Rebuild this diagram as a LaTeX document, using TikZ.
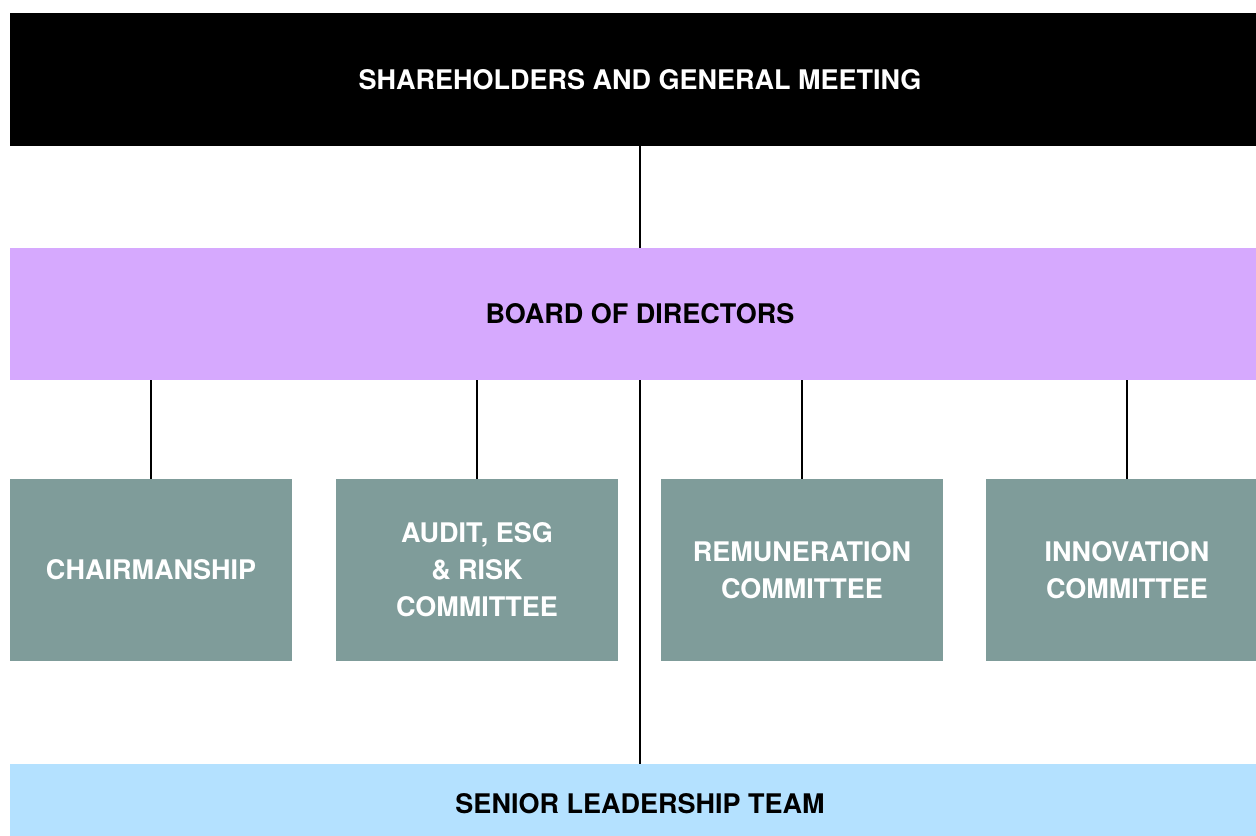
\documentclass[tikz,border=0pt]{standalone}
\usepackage{fontspec}
\setmainfont{TeX Gyre Heros}
\definecolor{boardpurple}{HTML}{D6A9FE}
\definecolor{committeegreen}{HTML}{7F9C9A}
\definecolor{seniorblue}{HTML}{B4E1FF}
\tikzset{
    govbox/.style={rectangle, inner sep=0pt, align=center, font=\bfseries\fontsize{13.5}{18.5}\selectfont},
    committee/.style={govbox, fill=committeegreen, text=white, minimum width=141pt, minimum height=91pt},
    link/.style={line width=0.7pt}
}
\begin{document}
\begin{tikzpicture}[x=0.5pt, y=-0.5pt]
    \clip (0,0) rectangle (1256,835);
    \fill[white] (0,0) rectangle (1256,835);

    \node[govbox, fill=black, text=white, minimum width=630pt, minimum height=66.5pt] (meeting) at (640,79.5) {SHAREHOLDERS AND GENERAL MEETING};
    \node[govbox, fill=boardpurple, minimum width=630pt, minimum height=66pt] (board) at (640,314) {BOARD OF DIRECTORS};

    \node[committee] (chair) at (151,570) {CHAIRMANSHIP};
    \node[committee] (audit) at (477,570) {AUDIT, ESG\\ \& RISK\\ COMMITTEE};
    \node[committee] (remun) at (802,570) {REMUNERATION\\ COMMITTEE};
    \node[committee] (innov) at (1127,570) {INNOVATION\\ COMMITTEE};

    \node[govbox, fill=seniorblue, minimum width=630pt, minimum height=40pt] (senior) at (640,804) {SENIOR LEADERSHIP TEAM};

    \draw[link] (meeting.south) -- (board.north);
    \draw[link] (board.south) -- (senior.north);
    \foreach \c in {chair, audit, remun, innov}
        \draw[link] (\c.north |- board.south) -- (\c.north);
\end{tikzpicture}
\end{document}
